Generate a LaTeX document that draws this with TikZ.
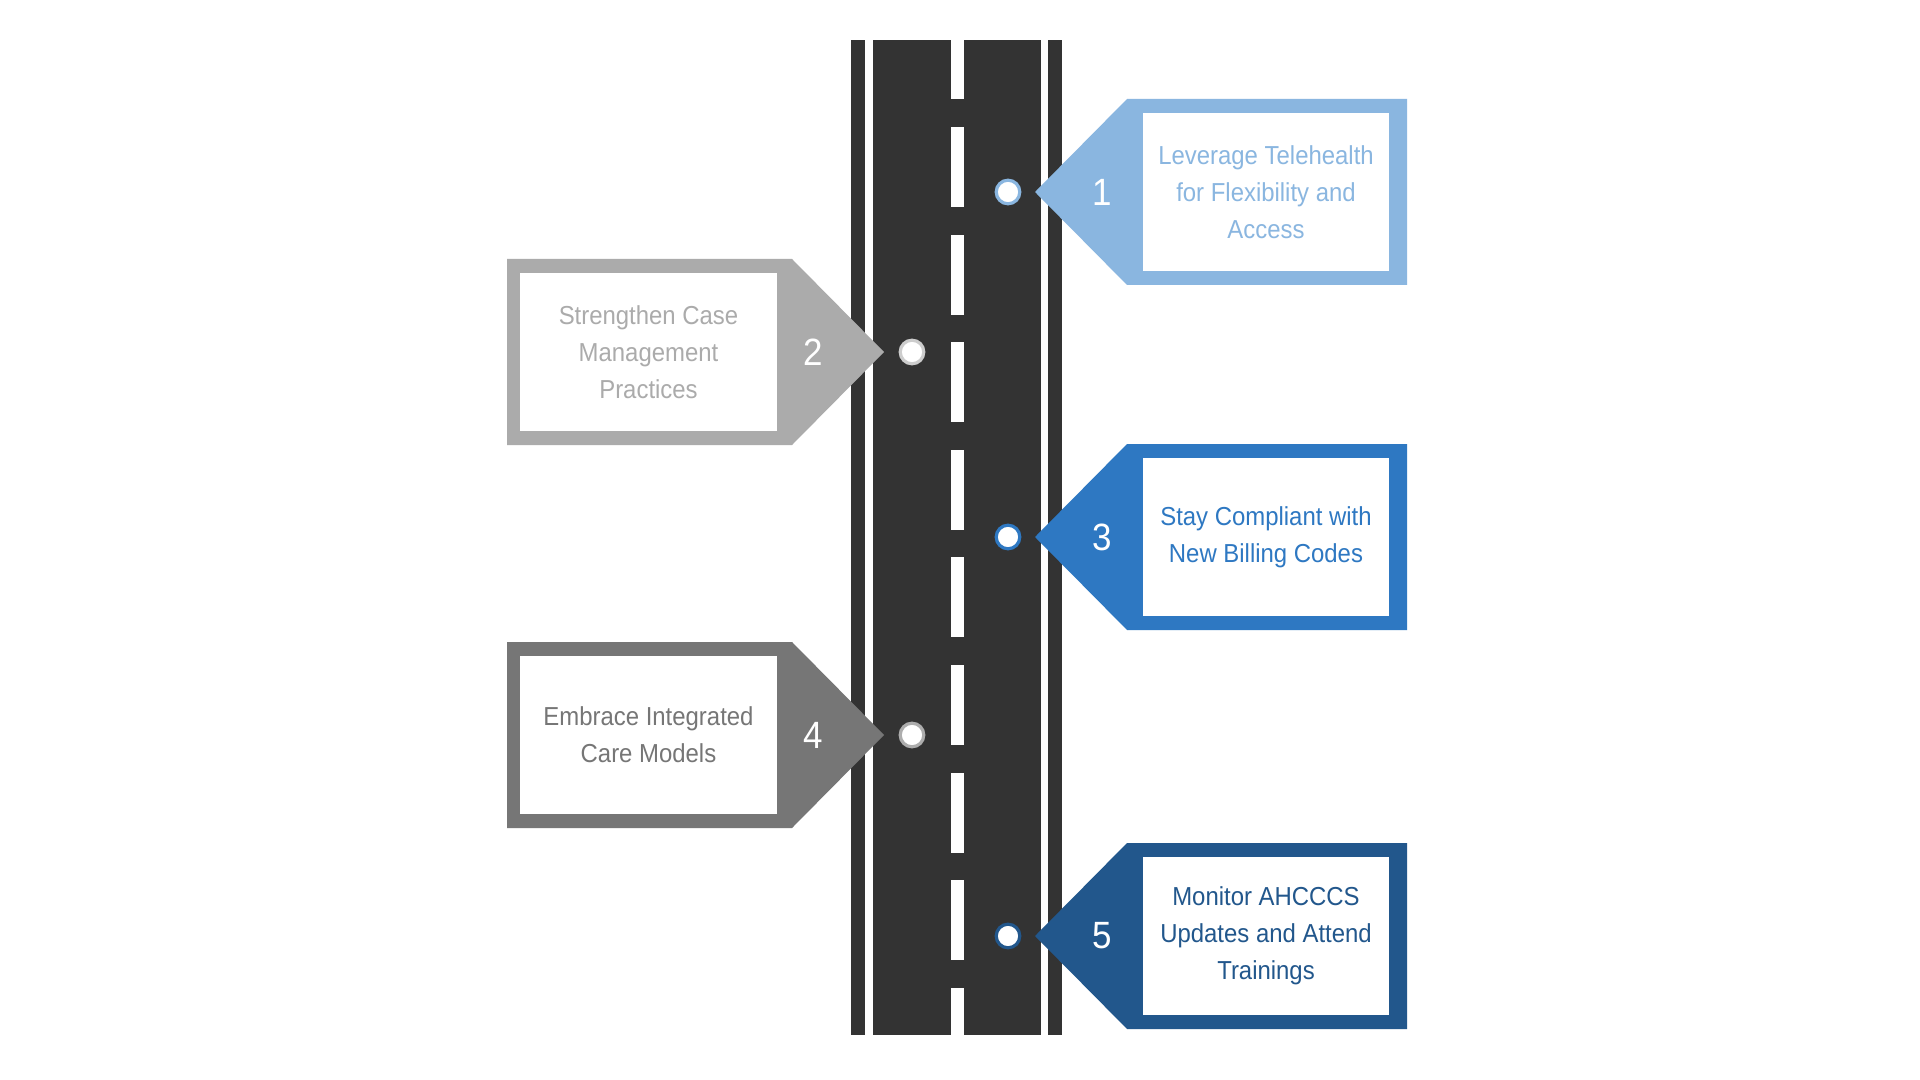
\documentclass[tikz,border=0pt]{standalone}
\usepackage{fontspec}
\setmainfont[FakeStretch=0.92]{Liberation Sans}
\definecolor{road}{HTML}{333333}
\definecolor{cA}{HTML}{8AB6E0}
\definecolor{cB}{HTML}{ABABAB}
\definecolor{cC}{HTML}{2E78C2}
\definecolor{cD}{HTML}{767676}
\definecolor{cE}{HTML}{22578C}
\tikzset{
  boxtext/.style={inner sep=0pt, align=center, font=\fontsize{13pt}{18.5pt}\selectfont},
  numtext/.style={inner sep=0pt, text=white, font=\fontsize{19pt}{22pt}\selectfont},
  roaddot/.style={circle, fill=white, line width=1.6pt, minimum size=11.8pt, inner sep=0pt}
}
\begin{document}
\begin{tikzpicture}[x=0.5pt,y=-0.5pt]
\useasboundingbox (0,0) rectangle (1920,1080);
\fill[white] (0,0) rectangle (1920,1080);
% road
\fill[road] (851,40) rectangle (1062,1035);
\fill[white] (865,40) rectangle (873,1035);
\fill[white] (1041,40) rectangle (1048,1035);
\fill[white] (951,40) rectangle (964,99);
\foreach \i in {0,...,8} {
  \pgfmathsetmacro{\ya}{127+\i*107.6}
  \pgfmathsetmacro{\yb}{min(\ya+80,1035)}
  \fill[white] (951,\ya) rectangle (964,\yb);
}
% right boxes
\foreach \c/\col/\num/\txt in {192/cA/1/{Leverage Telehealth\\for Flexibility and\\Access},537/cC/3/{Stay Compliant with\\New Billing Codes},936/cE/5/{Monitor AHCCCS\\Updates and Attend\\Trainings}} {
  \fill[\col] (1035,\c) -- (1127,\c-93) -- (1407,\c-93) -- (1407,\c+93) -- (1127,\c+93) -- cycle;
  \fill[white] (1143,\c-79) rectangle (1389,\c+79);
  \node[boxtext, text=\col] (t\num) at (1266,\c) {\txt};
  \node[numtext] (n\num) at (1102,\c) {\num};
  \node[roaddot, draw=\col] (d\num) at (1008,\c) {};
}
% left boxes
\foreach \c/\col/\num/\txt in {352/cB/2/{Strengthen Case\\Management\\Practices},735/cD/4/{Embrace Integrated\\Care Models}} {
  \fill[\col] (884,\c) -- (792,\c-93) -- (507,\c-93) -- (507,\c+93) -- (792,\c+93) -- cycle;
  \fill[white] (520,\c-79) rectangle (777,\c+79);
  \node[boxtext, text=\col] (t\num) at (648.5,\c) {\txt};
  \node[numtext] (n\num) at (813,\c) {\num};
  \node[roaddot, draw=\col!60] (d\num) at (912,\c) {};
}
\end{tikzpicture}
\end{document}
